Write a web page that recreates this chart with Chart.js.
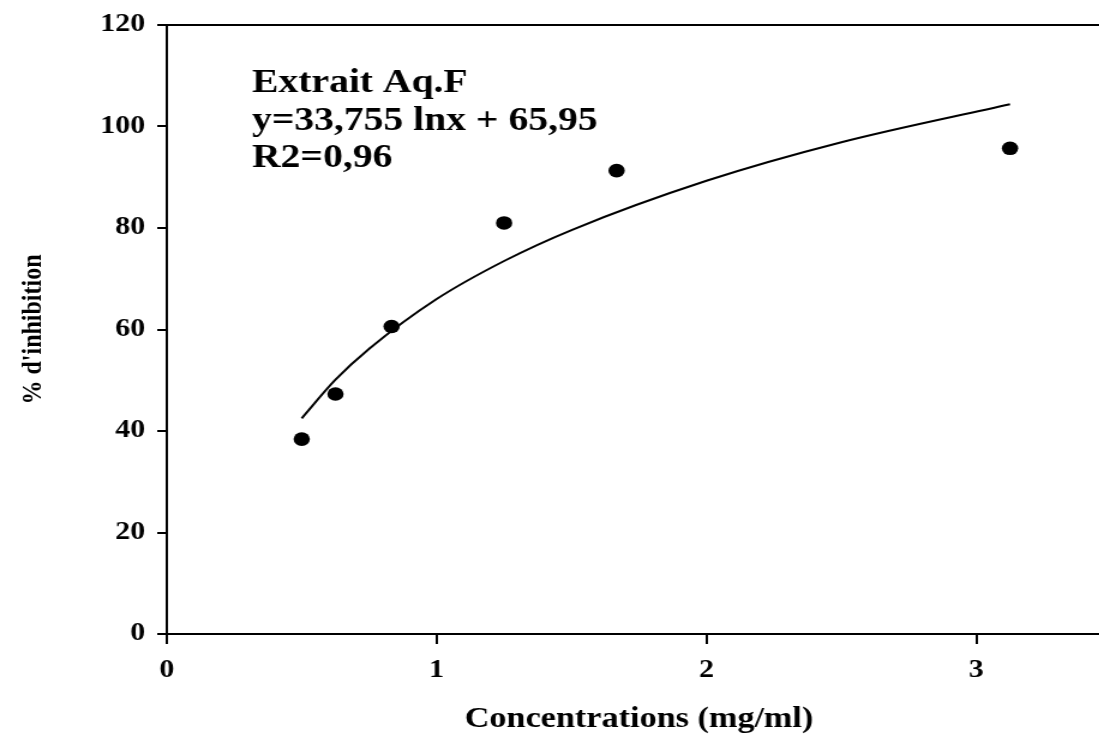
<!DOCTYPE html>
<html>
<head>
<meta charset="utf-8">
<script src="https://cdn.jsdelivr.net/npm/chart.js@4"></script>
<style>
    html, body { margin: 0; padding: 0; background: #fff; overflow: hidden; width: 1099px; height: 734px; }
    /* the reference is a horizontally stretched, right-cropped figure:
       draw it narrower, stretch it, and let the page crop the right end */
    .stretch { width: 926px; height: 734px; transform: scaleX(1.2); transform-origin: 0 0; }
</style>
</head>
<body>
<div class="stretch"><canvas id="inhibitionChart"></canvas></div>
<script>
// ==========================================
// Data
// ==========================================
const concentrations = [0.5, 0.625, 0.833, 1.25, 1.667, 3.125];
const inhibition = [38.4, 47.3, 60.6, 81.0, 91.3, 95.7];

// log fit curve
const fitX = [0.5, 0.625, 0.75, 1, 1.25, 1.5, 2, 2.5, 3.125];
const fitY = [42.5, 50.1, 56.2, 66.0, 73.5, 79.6, 89.3, 96.9, 104.4];

const xTickValues = [0, 1, 2, 3];
const yTickValues = [0, 20, 40, 60, 80, 100, 120];

const annotationLines = ['Extrait Aq.F', 'y=33,755 lnx + 65,95', 'R2=0,96'];

// ==========================================
// Chart
// ==========================================
Chart.defaults.font.family = "'Liberation Serif', 'Times New Roman', serif";
Chart.defaults.font.weight = 'bold';
Chart.defaults.color = '#000';

const topBorder = {
    id: 'topBorder',
    afterDraw(chart) {
        const { ctx, chartArea } = chart;
        ctx.save();
        ctx.strokeStyle = '#000';
        ctx.lineWidth = 2;
        ctx.beginPath();
        ctx.moveTo(chartArea.left, chartArea.top);
        ctx.lineTo(chartArea.right, chartArea.top);
        ctx.stroke();
        ctx.restore();
    }
};

const equationText = {
    id: 'equationText',
    afterDraw(chart) {
        const { ctx, chartArea } = chart;
        ctx.save();
        ctx.fillStyle = '#000';
        ctx.font = "bold 33px 'Liberation Serif', 'Times New Roman', serif";
        ctx.textBaseline = 'alphabetic';
        const x = chartArea.left + 71;
        annotationLines.forEach((line, i) => {
            ctx.fillText(line, x, 92 + i * 37.5);
        });
        ctx.restore();
    }
};

const pointData = concentrations.map((c, i) => ({ x: c, y: inhibition[i] }));
const fitData = fitX.map((c, i) => ({ x: c, y: fitY[i] }));

new Chart(document.getElementById('inhibitionChart'), {
    type: 'scatter',
    data: {
        datasets: [
            {
                label: 'fit',
                data: fitData,
                showLine: true,
                borderColor: '#000',
                borderWidth: 2,
                pointRadius: 0,
                cubicInterpolationMode: 'monotone',
                fill: false
            },
            {
                label: 'Extrait Aq.F',
                data: pointData,
                backgroundColor: '#000',
                borderColor: '#000',
                pointRadius: 6.8,
                pointBorderWidth: 0
            }
        ]
    },
    options: {
        responsive: true,
        maintainAspectRatio: false,
        animation: false,
        layout: { autoPadding: false, padding: { top: 22, right: 0, left: 0, bottom: 0 } },
        plugins: {
            legend: { display: false },
            tooltip: { enabled: false }
        },
        scales: {
            x: {
                type: 'linear',
                min: 0,
                max: 3.5,
                afterBuildTicks: scale => {
                    scale.ticks = xTickValues.map(v => ({ value: v }));
                },
                afterFit: scale => { scale.height = 100; },
                ticks: {
                    font: { size: 25, weight: 'bold' },
                    color: '#000',
                    padding: 12
                },
                grid: {
                    drawOnChartArea: false,
                    drawTicks: true,
                    tickLength: 10,
                    color: '#000',
                    lineWidth: 2
                },
                border: { color: '#000', width: 2 },
                title: {
                    display: true,
                    text: 'Concentrations (mg/ml)',
                    color: '#000',
                    font: { size: 28.5, weight: 'bold', lineHeight: 1 },
                    padding: { top: 0, bottom: 0 }
                }
            },
            y: {
                min: 0,
                max: 120,
                afterBuildTicks: scale => {
                    scale.ticks = yTickValues.map(v => ({ value: v }));
                },
                afterFit: scale => { scale.width = 139; },
                ticks: {
                    font: { size: 25, weight: 'bold' },
                    color: '#000',
                    padding: 10
                },
                grid: {
                    drawOnChartArea: false,
                    drawTicks: true,
                    tickLength: 8,
                    color: '#000',
                    lineWidth: 2
                },
                border: { color: '#000', width: 2 },
                title: {
                    display: true,
                    text: "% d'inhibition",
                    color: '#000',
                    font: { size: 24, weight: 'bold', lineHeight: 1 },
                    padding: { top: 16, bottom: 0 }
                }
            }
        }
    },
    plugins: [topBorder, equationText]
});
</script>
</body>
</html>
